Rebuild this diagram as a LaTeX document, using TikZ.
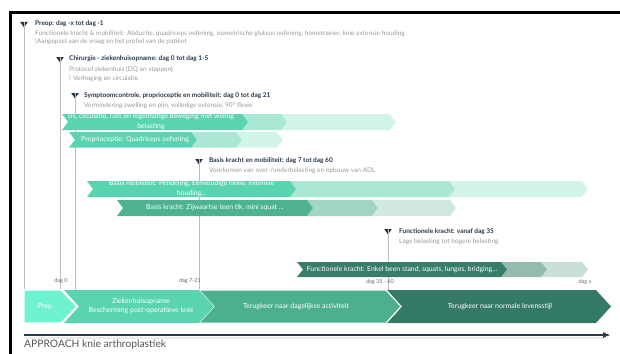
\documentclass[tikz,border=0pt]{standalone}
\usepackage{fontspec}
\setmainfont{Lato}
\usetikzlibrary{arrows.meta}
\definecolor{navy}{HTML}{263646}
\definecolor{subgray}{HTML}{9A9A9A}
\definecolor{linegray}{HTML}{BDBDBD}
\definecolor{daggray}{HTML}{6A6A6A}
\definecolor{prepc}{HTML}{6EF2CF}
\definecolor{mintA}{HTML}{5AD4B0}
\definecolor{mintB}{HTML}{A8E8D4}
\definecolor{mintC}{HTML}{D3F4EA}
\definecolor{greenA}{HTML}{4DB291}
\definecolor{greenB}{HTML}{A2D5C4}
\definecolor{greenC}{HTML}{CFE9E1}
\definecolor{darkA}{HTML}{387D69}
\definecolor{darkB}{HTML}{93BCAF}
\definecolor{darkC}{HTML}{C9DED8}
\definecolor{barC}{HTML}{4CB08F}
\definecolor{barD}{HTML}{357A66}
\definecolor{arrowc}{HTML}{2B3B4D}
\definecolor{captionc}{HTML}{555555}
\tikzset{
  titletext/.style={anchor=west, inner sep=0pt, font=\fontsize{6.5}{7.5}\selectfont\bfseries, text=navy},
  subtext/.style={anchor=west, inner sep=0pt, font=\fontsize{6.5}{7.5}\selectfont, text=subgray},
  chevtext/.style={inner sep=0pt, font=\fontsize{6.9}{10}\selectfont, text=white, align=center},
  bartext/.style={inner sep=0pt, font=\fontsize{7}{8.5}\selectfont, text=white, align=center},
  daglabel/.style={inner sep=0pt, font=\fontsize{5.5}{6}\selectfont, text=daggray},
  vline/.style={draw=linegray, line width=0.8pt},
}
% chevron: x1 x2 ytop ybot depth colour
\newcommand{\chevshape}[6]{%
  \fill[#6] (#1,#3) -- (#2,#3) -- ({#2+#5},{(#3+#4)/2}) -- (#2,#4) -- (#1,#4) -- ({#1+#5},{(#3+#4)/2}) -- cycle;}
% marker: name x y
\newcommand{\mkr}[3]{%
  \coordinate (#1) at (#2,#3);
  \fill[navy] ({#2-3.8},#3) -- ({#2+3.8},#3) -- (#2,{#3+5.5}) -- cycle;}
\begin{document}
\begin{tikzpicture}[x=1pt,y=-1pt]
\useasboundingbox (0,0) rectangle (620,353);
% frame
\draw[line width=2.2pt] (10.5,354) -- (10.5,12.5) -- (621,12.5);

% markers and their vertical lines
\mkr{m1}{24}{22}
\mkr{m2}{60}{57}
\mkr{m3}{75}{93}
\mkr{m4}{199}{159}
\mkr{m5}{388}{229}
\coordinate (b1) at (24,290);
\coordinate (b2) at (60,290);
\coordinate (b3) at (75,290);
\coordinate (b4) at (199,290);
\coordinate (b5) at (388,290);
\foreach \i in {1,...,5} \draw[vline] (m\i) -- (b\i);

% titles
\node[titletext] (t1) at (35,23.5) {Preop: dag -x tot dag -1};
\node[subtext] (s1a) at (35,33.5) {Functionele kracht \& mobiliteit: Abductie, quadriceps oefening, isometrische gluteus oefening, hometrainer, knie extensie houding};
\node[subtext] (s1b) at (35,42) {!Aangepast aan de vraag en het profiel van de patiënt};
\node[titletext] (t2) at (69,59) {Chirurgie - ziekenhuisopname: dag 0 tot dag 1-5};
\node[subtext] (s2a) at (69,69.5) {Protocol ziekenhuis (DQ en stappen)};
\node[subtext] (s2b) at (69,78.5) {! Verhoging en circulatie};
\node[titletext] (t3) at (84,95.5) {Symptoomcontrole, proprioceptie en mobiliteit: dag 0 tot dag 21};
\node[subtext] (s3a) at (84,105.5) {Vermindering zwelling en pijn, volledige extensie, 90° flexie};
\node[titletext] (t4) at (209,161) {Basis kracht en mobiliteit: dag 7 tot dag 60};
\node[subtext] (s4a) at (209,170.5) {Voorkomen van over-/onderbelasting en opbouw van ADL};
\node[titletext] (t5) at (399,231.5) {Functionele kracht: vanaf dag 35};
\node[subtext] (s5a) at (399,241.5) {Lage belasting tot hogere belasting};

% row A
\chevshape{281}{390}{114}{130}{6}{mintC}
\chevshape{242}{281}{114}{130}{6}{mintB}
\chevshape{62}{242}{114}{130}{6}{mintA}
\node[chevtext] (ra) at (151,122) {IJs, circulatie, rust en regelmatige beweging met weinig\\belasting};
% row B
\chevshape{236}{277}{132}{147.5}{6}{mintC}
\chevshape{191}{236}{132}{147.5}{6}{mintB}
\chevshape{69}{191}{132}{147.5}{6}{mintA}
\node[chevtext] (rb) at (135,139.8) {Proprioceptie: Quadriceps oefening};
% row C
\chevshape{449}{582}{181}{197}{6}{mintC}
\chevshape{290}{449}{181}{197}{6}{mintB}
\chevshape{87}{290}{181}{197}{6}{mintA}
\node[chevtext] (rc) at (191.5,189) {Basis mobiliteit: Pendeling, Eenvoudige flexie, extensie\\houding...};
% row D
\chevshape{372}{450}{200}{216}{6}{greenC}
\chevshape{307}{372}{200}{216}{6}{greenB}
\chevshape{117}{307}{200}{216}{6}{greenA}
\node[chevtext] (rd) at (215,208) {Basis kracht: Zijwaartse teen tik, mini squat ...};
% row E
\chevshape{541}{582}{262}{277}{6}{darkC}
\chevshape{501}{541}{262}{277}{6}{darkB}
\chevshape{297}{501}{262}{277}{6}{darkA}
\node[chevtext] (re) at (402,269.5) {Functionele kracht: Enkel been stand, squats, lunges, bridging...};

% day labels
\node[daglabel] (d0) at (61,280.5) {dag 0};
\node[daglabel] (d1) at (190,281) {dag 7-21};
\node[daglabel] (d2) at (380,282) {dag 35 - 60};
\node[daglabel] (d3) at (585,282) {dag x};

% bottom phase bar
\chevshape{387}{596}{290}{323}{15}{barD}
\fill[barC, draw=white, line width=1pt] (199,290) -- (386,290) -- (401,306.5) -- (386,323) -- (199,323) -- (214,306.5) -- cycle;
\chevshape{64}{199}{290}{323}{15}{mintA}
\fill[prepc, draw=white, line width=1.2pt] (24,290) -- (61,290) -- (77,306.5) -- (61,323) -- (24,323) -- cycle;
\node[bartext] (p1) at (45,307) {Prep};
\node[bartext] (p2) at (141,306) {Ziekenhuisopname\\Bescherming post-operatieve knie};
\node[bartext] (p3) at (296,307) {Terugkeer naar dagelijkse activiteit};
\node[bartext] (p4) at (500,307) {Terugkeer naar normale levensstijl};

% time arrow
\coordinate (a0) at (24,335);
\coordinate (a1) at (611,335);
\draw[line width=2pt, draw=black, opacity=0.08] (25,338) -- (606,338);
\draw[line width=2.4pt, arrowc, -{Latex[length=8pt,width=6pt]}] (a0) -- (a1);
\node[anchor=west, inner sep=0pt, font=\fontsize{10.3}{12}\selectfont, text=captionc] (cap) at (24,345) {APPROACH knie arthroplastiek};
\end{tikzpicture}
\end{document}
